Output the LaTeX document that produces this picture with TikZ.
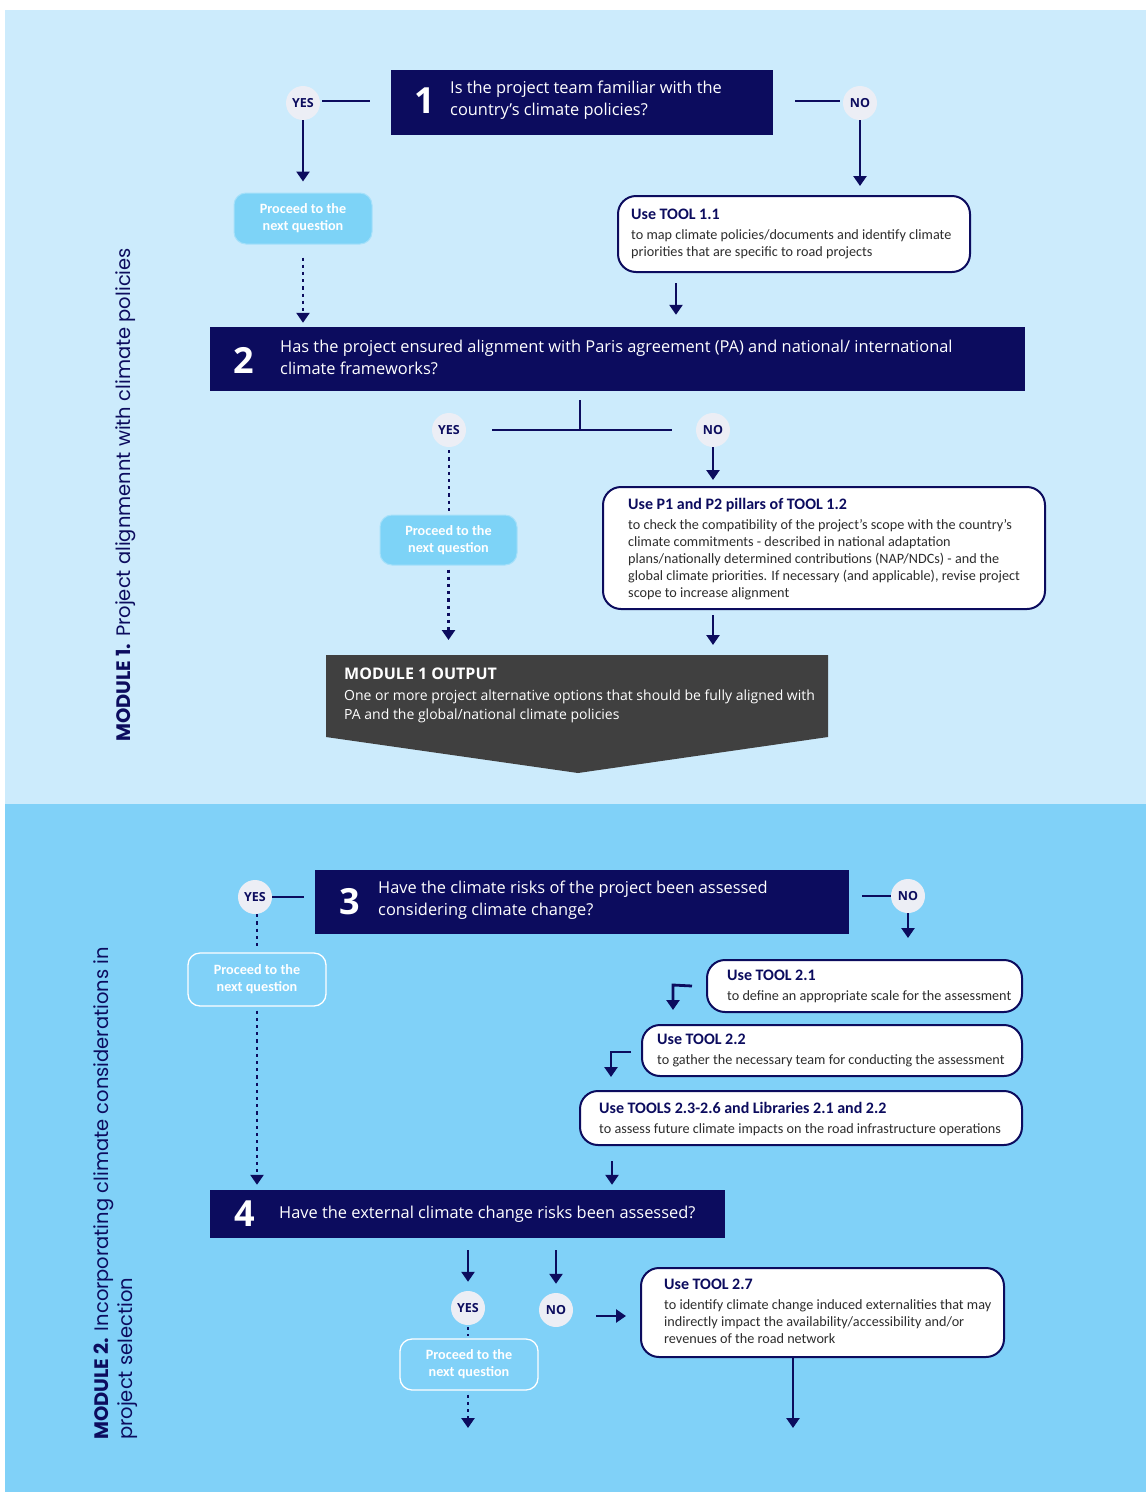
\documentclass[tikz,border=0pt]{standalone}
\usepackage{fontspec}
\setmainfont{Carlito}
\newfontfamily\osans{Open Sans}
\newfontfamily\popp{Poppins}
\usetikzlibrary{arrows.meta,calc}
\definecolor{navy}{RGB}{12,12,94}
\definecolor{bgtop}{RGB}{204,235,252}
\definecolor{bgbot}{RGB}{128,209,248}
\definecolor{circ}{RGB}{236,238,245}
\definecolor{procfill}{RGB}{125,211,247}
\definecolor{procedge}{RGB}{165,224,250}
\definecolor{outgrey}{RGB}{64,64,64}
\definecolor{bodygrey}{RGB}{45,45,45}
\begin{document}
\begin{tikzpicture}[x=1pt,y=-1pt,
 qbox/.style={fill=navy, draw=none, inner sep=0},
 qnum/.style={text=white, inner sep=0, font=\osans\bfseries\fontsize{36}{36}\selectfont},
 qtext/.style={text=white, anchor=west, align=left, inner sep=0, font=\osans\fontsize{16.4}{22}\selectfont},
 yn/.style={circle, fill=circ, minimum size=34pt, inner sep=0, text=navy, font=\osans\bfseries\fontsize{12.5}{12.5}\selectfont},
 toolbox/.style={draw=navy, line width=2pt, fill=white, rounded corners=18pt, inner sep=0},
 tooltxt/.style={anchor=west, align=left, inner sep=0, text=bodygrey, font=\fontsize{14.2}{17}\selectfont},
 procbox/.style={rounded corners=12pt, text=white, align=center, inner sep=0, font=\bfseries\fontsize{14.2}{17}\selectfont},
 proctop/.style={procbox, fill=procfill, draw=procedge, line width=1pt},
 procbot/.style={procbox, draw=white, line width=1.3pt},
 link/.style={draw=navy, line width=2.8pt},
 arr/.style={link, -{Triangle[width=13pt,length=10pt]}},
 dotarr/.style={arr, dash pattern=on 3.2pt off 4pt},
 dotlink/.style={link, dash pattern=on 3.2pt off 4pt},
 side/.style={rotate=90, anchor=west, align=left, inner sep=0, text=navy, font=\popp\fontsize{19.5}{24}\selectfont}
]
\newcommand{\tooltitle}[1]{{\color{navy}\bfseries\fontsize{16}{17}\selectfont #1}\\[3pt]}
\useasboundingbox (0,0) rectangle (1146,1492);
\fill[white] (0,0) rectangle (1146,1492);
\fill[bgtop] (5,10) rectangle (1146,804);
\fill[bgbot] (5,804) rectangle (1146,1492);

% ---------- side labels
\node[side] (m1) at (126,742) {\textbf{MODULE 1.} Project alignmennt with climate policies};
\node[side] (m2) at (116,1440) {\textbf{MODULE 2.} Incorporating climate considerations in\\project selection};

% ---------- Question 1
\node[qbox, minimum width=382pt, minimum height=65pt] (q1) at (582,102.5) {};
\node[qnum] (n1) at (425,101) {1};
\node[qtext] (t1) at (450,100) {Is the project team familiar with the\\country’s climate policies?};
\node[yn] (y1) at (303,103) {YES};
\node[yn] (no1) at (860,103) {NO};
\draw[link] (y1.east) ++(2,-2) -- (370,101);
\draw[link] (795,101) -- ($(no1.west)+(-3,-2)$);
\node[proctop, minimum width=138pt, minimum height=51pt] (p1) at (303,218.5) {Proceed to the\\next question};
\draw[arr] (y1.south) -- ([yshift=11pt]p1.north);
\node[toolbox, minimum width=352pt, minimum height=76pt] (b11) at (794,234) {};
\node[tooltxt] (x11) at (631,234) {\tooltitle{Use TOOL 1.1}to map  climate policies/documents and identify climate\\priorities that are specific to road projects};
\draw[arr] (no1.south) -- (no1.south |- {(0,186)});

% ---------- Question 2
\node[qbox, minimum width=815pt, minimum height=64pt] (q2) at (617.5,359) {};
\node[qnum] (n2) at (244,360) {2};
\node[qtext] (t2) at (280,357) {Has the project ensured alignment with Paris agreement (PA) and national/ international\\climate frameworks?};
\draw[dotarr] ([yshift=-13pt]p1.south) -- ([yshift=4pt]p1.south |- q2.north);
\draw[arr] ([xshift=-118pt,yshift=-10pt]b11.south) -- ([xshift=-118pt,yshift=12pt]b11.south |- q2.north);
\node[yn] (y2) at (449,430) {YES};
\node[yn] (no2) at (713,430) {NO};
\coordinate (tj) at (580,430);
\draw[link] ([yshift=-9pt]q2.south -| tj) -- (tj);
\draw[link] ([xshift=26pt]y2.east |- tj) -- ([xshift=-24pt]no2.west |- tj);
\node[proctop, minimum width=137pt, minimum height=50pt] (p2) at (448.5,540) {Proceed to the\\next question};
\draw[dotlink] ([yshift=-3pt]y2.south) -- ([yshift=3pt]y2.south |- p2.north);
\node[toolbox, minimum width=442pt, minimum height=122pt] (b12) at (824,548) {};
\node[tooltxt] (x12) at (628,549) {\tooltitle{Use P1 and P2 pillars of TOOL 1.2}to check the compatibility of the project’s scope with the country’s\\climate commitments - described in national adaptation\\plans/nationally determined contributions (NAP/NDCs) - and the\\global climate priorities. If necessary (and applicable), revise project\\scope to increase alignment};
\draw[arr] (no2.south) -- (no2.south |- {(0,480)});

% ---------- Module 1 output
\coordinate (otl) at (326,655);
\coordinate (otr) at (828,655);
\coordinate (otip) at (578,773);
\fill[outgrey] (otl) -- (otr) -- (828,737) -- (otip) -- (326,737) -- cycle;
\node[anchor=north west, align=left, inner sep=0, text=white, font=\osans\fontsize{14}{19}\selectfont] (ot) at (344,668) {{\bfseries\fontsize{16}{19}\selectfont MODULE 1 OUTPUT}\\[2pt]One or more project alternative options that should be fully aligned with\\PA and the global/national climate policies};
\draw[dotarr] ([yshift=-4pt]p2.south) -- (p2.south |- {(0,640)});
\draw[arr] ([xshift=-111pt,yshift=-5pt]b12.south) -- ([xshift=-111pt]b12.south |- {(0,645)});

% ---------- Question 3
\node[qbox, minimum width=534pt, minimum height=64pt] (q3) at (582,902) {};
\node[qnum] (n3) at (350,902) {3};
\node[qtext] (t3) at (378,900) {Have the climate risks of the project been assessed\\considering climate change?};
\node[yn] (y3) at (255,897) {YES};
\node[yn] (no3) at (908,896) {NO};
\draw[link] (y3.east) -- ([xshift=-11pt]y3.east -| q3.west);
\draw[link] ([xshift=13pt]no3.west -| q3.east) -- (no3.west);
\draw[arr] (no3.south) -- (no3.south |- {(0,938)});
\node[procbot, minimum width=138pt, minimum height=53pt] (p3) at (257,979.5) {Proceed to the\\next question};
\draw[dotlink] ([xshift=2pt]y3.south) -- ([xshift=2pt,yshift=3pt]y3.south |- p3.north);

% ---------- Tool boxes 2.1 - 2.3
\node[toolbox, minimum width=315pt, minimum height=52pt] (b21) at (864.5,986) {};
\node[tooltxt] (x21) at (727,986) {\tooltitle{Use TOOL 2.1}to define an appropriate scale for the assessment};
\node[toolbox, minimum width=380pt, minimum height=51pt] (b22) at (832,1050.5) {};
\node[tooltxt] (x22) at (657,1050) {\tooltitle{Use TOOL 2.2}to gather the necessary team for conducting the assessment};
\node[toolbox, minimum width=442pt, minimum height=54pt] (b23) at (801,1118) {};
\node[tooltxt] (x23) at (599,1119) {\tooltitle{Use TOOLS 2.3-2.6 and Libraries 2.1 and 2.2}to assess future climate impacts on the road infrastructure operations};
\draw[arr] ([xshift=-14pt]b21.west) -- (673,985) -- (673 ,1010);
\draw[arr] ([xshift=-10pt,yshift=-1.5pt]b22.west) -- (611,1052) -- (611,1077);

% ---------- Question 4
\node[qbox, minimum width=515pt, minimum height=48pt] (q4) at (467.5,1214) {};
\node[qnum] (n4) at (245,1214) {4};
\node[qtext] (t4) at (279,1214) {Have the external climate change risks been assessed?};
\draw[dotarr] ([yshift=-4pt]p3.south) -- ([yshift=5pt]p3.south |- q4.north);
\draw[arr] ([xshift=-189pt,yshift=-15pt]b23.south) -- ([xshift=-189pt,yshift=5pt]b23.south |- q4.north);
\node[yn] (y4) at (468,1308) {YES};
\node[yn] (no4) at (556,1310) {NO};
\draw[arr] ([yshift=-12pt]q4.south -| y4) -- ([yshift=9pt]y4.north);
\draw[arr] ([yshift=-12pt]q4.south -| no4) -- ([yshift=9pt]no4.north);
\node[procbot, minimum width=138pt, minimum height=51pt] (p4) at (469,1364.5) {Proceed to the\\next question};
\draw[dotlink] ([yshift=-2pt]y4.south) -- ([yshift=2pt]y4.south |- p4.north);
\draw[dotarr] ([yshift=-4pt]p4.south -| y4) -- (y4 |- {(0,1428)});
\node[toolbox, minimum width=363pt, minimum height=89pt] (b27) at (822.5,1312.5) {};
\node[tooltxt] (x27) at (664,1311) {\tooltitle{Use TOOL 2.7}to  identify climate change induced externalities that may\\indirectly impact the availability/accessibility and/or\\revenues of the road network};
\coordinate (na) at (596,1316);
\draw[arr, shorten >=14pt] (na) -- (na -| b27.west);
\draw[arr] ([xshift=-29.5pt]b27.south) -- ([xshift=-29.5pt]b27.south |- {(0,1428)});
\end{tikzpicture}
\end{document}
